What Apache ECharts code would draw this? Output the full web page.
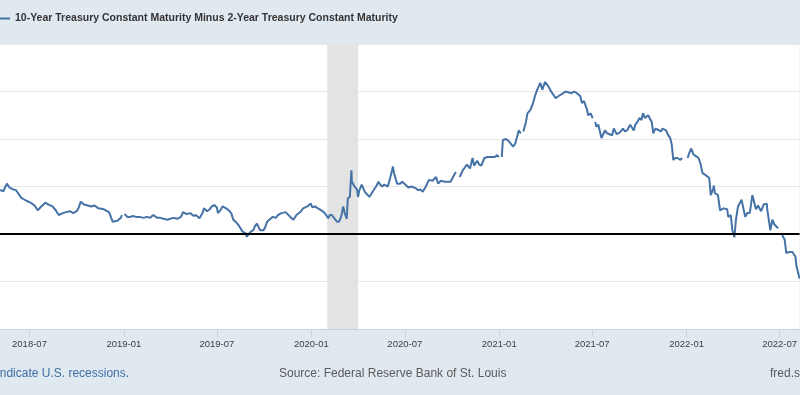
<!DOCTYPE html>
<html>
<head>
<meta charset="utf-8">
<script src="https://cdn.jsdelivr.net/npm/echarts@6/dist/echarts.min.js"></script>
<style>
html,body{margin:0;padding:0;background:#e1e9f0;}
#chart{width:800px;height:395px;}
</style>
</head>
<body>
<div id="chart"></div>
<script>
// ---- data ----
const seriesName = '10-Year Treasury Constant Maturity Minus 2-Year Treasury Constant Maturity';
const dates = [
'2018-05-01','2018-05-11','2018-05-18','2018-05-23','2018-05-30','2018-06-05','2018-06-08','2018-06-15','2018-06-25',
'2018-07-03','2018-07-11','2018-07-17','2018-07-24','2018-08-01','2018-08-07','2018-08-15','2018-08-21','2018-08-27',
'2018-09-04','2018-09-10','2018-09-18','2018-09-24','2018-10-01','2018-10-05','2018-10-09','2018-10-15','2018-10-23',
'2018-10-29','2018-11-05','2018-11-12','2018-11-15','2018-11-23','2018-11-29','2018-12-03','2018-12-10','2018-12-13',
'2018-12-19','2018-12-26','2018-12-28','2019-01-01','2019-01-02','2019-01-08','2019-01-14','2019-01-18','2019-01-25',
'2019-02-01','2019-02-08','2019-02-15','2019-02-21','2019-02-27','2019-03-07','2019-03-13','2019-03-19','2019-03-27',
'2019-04-01','2019-04-08','2019-04-15','2019-04-22','2019-04-26','2019-05-03','2019-05-10','2019-05-17','2019-05-21',
'2019-05-28','2019-06-03','2019-06-06','2019-06-12','2019-06-17','2019-06-21','2019-06-26','2019-07-01','2019-07-03',
'2019-07-09','2019-07-12','2019-07-19','2019-07-24','2019-07-29','2019-08-02','2019-08-08','2019-08-12','2019-08-16',
'2019-08-20','2019-08-26','2019-08-28','2019-09-04','2019-09-10','2019-09-13','2019-09-17','2019-09-23','2019-09-30',
'2019-10-03','2019-10-07','2019-10-11','2019-10-18','2019-10-24','2019-10-28','2019-11-04','2019-11-07','2019-11-12',
'2019-11-15','2019-11-21','2019-11-27','2019-12-03','2019-12-06','2019-12-12','2019-12-16','2019-12-20','2019-12-24',
'2019-12-27','2019-12-31','2020-01-03','2020-01-08','2020-01-14','2020-01-17','2020-01-23','2020-01-27','2020-01-31',
'2020-02-03','2020-02-06','2020-02-10','2020-02-14','2020-02-20','2020-02-24','2020-02-28','2020-03-03','2020-03-06',
'2020-03-10','2020-03-12','2020-03-16','2020-03-19','2020-03-20','2020-03-25','2020-03-30','2020-04-01','2020-04-03',
'2020-04-08','2020-04-14','2020-04-17','2020-04-23','2020-04-30','2020-05-06','2020-05-11','2020-05-14','2020-05-18',
'2020-05-22','2020-05-29','2020-06-03','2020-06-08','2020-06-10','2020-06-16','2020-06-22','2020-06-26','2020-07-02',
'2020-07-08','2020-07-14','2020-07-17','2020-07-23','2020-07-27','2020-07-31','2020-08-05','2020-08-11','2020-08-17',
'2020-08-20','2020-08-24','2020-08-31','2020-09-04','2020-09-09','2020-09-11','2020-09-17','2020-09-23','2020-09-28',
'2020-10-01','2020-10-07','2020-10-09','2020-10-12','2020-10-16','2020-10-22','2020-10-26','2020-10-30','2020-11-05',
'2020-11-10','2020-11-13','2020-11-19','2020-11-23','2020-11-27','2020-12-03','2020-12-09','2020-12-14','2020-12-17',
'2020-12-23','2020-12-28','2020-12-31','2021-01-01','2021-01-06','2021-01-08','2021-01-14','2021-01-19','2021-01-22',
'2021-01-28','2021-02-01','2021-02-08','2021-02-12','2021-02-15','2021-02-17','2021-02-22','2021-02-25','2021-03-03',
'2021-03-08','2021-03-12','2021-03-16','2021-03-22','2021-03-26','2021-03-31','2021-04-06','2021-04-12','2021-04-15',
'2021-04-21','2021-04-26','2021-04-29','2021-05-05','2021-05-10','2021-05-13','2021-05-17','2021-05-21','2021-05-27',
'2021-06-02','2021-06-08','2021-06-11','2021-06-15','2021-06-21','2021-06-23','2021-06-28','2021-07-02','2021-07-05',
'2021-07-07','2021-07-09','2021-07-13','2021-07-19','2021-07-26','2021-07-30','2021-08-04','2021-08-09','2021-08-12',
'2021-08-18','2021-08-24','2021-08-30','2021-09-03','2021-09-07','2021-09-13','2021-09-20','2021-09-23','2021-09-27',
'2021-10-01','2021-10-05','2021-10-08','2021-10-12','2021-10-18','2021-10-25','2021-10-28','2021-11-01','2021-11-05',
'2021-11-12','2021-11-15','2021-11-22','2021-11-26','2021-11-30','2021-12-03','2021-12-06','2021-12-10','2021-12-14',
'2021-12-20','2021-12-23','2021-12-27','2022-01-03','2022-01-06','2022-01-10','2022-01-14','2022-01-19','2022-01-24',
'2022-01-28','2022-02-01','2022-02-07','2022-02-14','2022-02-17','2022-02-22','2022-02-23','2022-02-25','2022-03-03',
'2022-03-07','2022-03-14','2022-03-17','2022-03-21','2022-03-23','2022-03-28','2022-03-31','2022-04-04','2022-04-07',
'2022-04-11','2022-04-18','2022-04-21','2022-04-25','2022-04-29','2022-05-04','2022-05-09','2022-05-10','2022-05-16',
'2022-05-20','2022-05-26','2022-05-31','2022-06-06','2022-06-07','2022-06-13','2022-06-17','2022-06-21','2022-06-24',
'2022-06-28','2022-07-04','2022-07-06','2022-07-11','2022-07-14','2022-07-20','2022-07-26','2022-08-01','2022-08-03',
'2022-08-09'
];
const values = [
0.47,0.45,0.53,0.49,0.47,0.46,0.45,0.38,0.35,
0.33,0.30,0.25,0.29,0.33,0.31,0.29,0.25,0.20,
0.22,0.23,0.24,0.22,0.24,0.28,0.34,0.31,0.30,
0.29,0.30,0.27,0.25,0.26,0.24,0.23,0.13,0.14,
0.14,0.17,0.20,null,0.21,0.18,0.18,0.19,0.18,
0.18,0.17,0.18,0.17,0.20,0.17,0.17,0.16,0.15,
0.16,0.17,0.16,0.18,0.23,0.21,0.22,0.19,0.20,
0.165,0.22,0.27,0.24,0.26,0.29,0.305,0.28,0.22,
0.26,0.29,0.27,0.25,0.22,0.15,0.12,0.095,0.06,
0.025,0.01,-0.03,0.02,0.04,0.08,0.11,0.04,0.04,
0.07,0.13,0.15,0.18,0.17,0.20,0.22,0.235,0.23,
0.25,0.18,0.15,0.20,0.22,0.24,0.27,0.28,0.29,
0.30,0.32,0.28,0.29,0.27,0.25,0.24,0.22,0.19,
0.165,0.20,0.20,0.17,0.13,0.13,0.18,0.29,0.22,
0.16,0.375,0.39,0.67,0.55,0.50,0.47,0.39,0.45,
0.52,0.445,0.43,0.39,0.45,0.50,0.55,0.52,0.50,
0.52,0.50,0.60,0.71,0.64,0.53,0.53,0.55,0.52,
0.49,0.50,0.49,0.48,0.46,0.47,0.445,0.50,0.57,
0.55,0.56,0.60,0.53,0.56,0.57,0.55,0.55,0.55,
0.57,0.64,0.65,null,0.60,0.67,0.70,0.73,0.69,
0.80,0.72,0.77,0.73,0.72,0.80,0.81,0.81,0.83,
0.81,0.83,0.81,null,0.81,0.99,1.00,0.98,0.97,
0.92,0.95,1.09,1.06,null,1.08,1.18,1.27,1.31,
1.38,1.46,1.52,1.59,1.52,1.60,1.56,1.50,1.48,
1.43,1.45,1.45,1.48,1.50,1.52,1.49,1.48,1.50,
1.48,1.45,1.38,1.40,1.31,1.25,1.27,1.22,null,
1.18,1.13,1.15,1.01,1.09,1.06,1.05,1.04,1.11,
1.05,1.07,1.11,1.08,1.09,1.15,1.09,1.15,1.18,
1.22,1.20,1.27,1.22,1.25,1.18,1.06,1.11,1.10,
1.08,1.11,1.09,1.04,1.01,0.94,0.78,0.80,0.80,
0.78,0.80,null,0.80,0.85,0.90,0.84,0.82,0.80,
0.74,0.64,0.62,0.59,0.41,0.48,0.51,0.43,0.41,
0.25,0.27,0.28,0.26,0.18,0.20,0.04,-0.035,0.15,
0.29,0.36,0.37,0.18,0.22,0.22,0.41,0.43,0.26,
0.30,0.24,0.31,0.32,0.26,0.04,0.15,0.10,0.12,
0.06,null,-0.01,-0.06,-0.20,-0.19,-0.19,-0.24,-0.34,
-0.47
];
const xTickLabels = ['2018-07','2019-01','2019-07','2020-01','2020-07','2021-01','2021-07','2022-01','2022-07'];
const recession = ['2020-02-01','2020-04-01'];
const xRange = ['2018-05-04 14:00','2022-08-09 00:00'];
const yMin = -1, yMax = 2, yStep = 0.5;

// ---- chart ----
const P = s => echarts.time.parse(s).getTime();
const seriesData = dates.map((d, i) => [P(d), values[i]]);
const tickValues = xTickLabels.map(s => P(s + '-01'));
const pad2 = n => (n < 10 ? '0' : '') + n;
const font = '"Liberation Sans", Arial, Helvetica, sans-serif';

const chart = echarts.init(document.getElementById('chart'), null, {renderer: 'canvas'});
chart.setOption({
  animation: false,
  backgroundColor: '#e1e9f0',
  legend: {
    left: -20, top: 8,
    icon: 'rect',
    itemWidth: 25, itemHeight: 2, itemGap: 10,
    textStyle: {fontFamily: font, fontSize: 10.5, fontWeight: 'bold', color: '#333'},
    data: [seriesName]
  },
  grid: {
    left: 0, right: 0, top: 44, bottom: 66,
    show: true, backgroundColor: '#ffffff', borderWidth: 0
  },
  xAxis: {
    type: 'value',
    min: P(xRange[0]), max: P(xRange[1]),
    axisLine: {show: true, onZero: false, lineStyle: {color: '#c6d3df', width: 1}},
    axisTick: {show: true, length: 8, lineStyle: {color: '#c6d3df'}, customValues: tickValues},
    splitLine: {show: false},
    axisLabel: {
      customValues: tickValues,
      margin: 10,
      fontFamily: font, fontSize: 9.5, color: '#3d3d3d',
      formatter: v => { const d = new Date(v); return d.getFullYear() + '-' + pad2(d.getMonth() + 1); }
    }
  },
  yAxis: {
    type: 'value', min: yMin, max: yMax, interval: yStep,
    axisLine: {show: false}, axisTick: {show: false},
    axisLabel: {show: false},
    splitLine: {show: true, lineStyle: {color: '#e6e6e6', width: 1}}
  },
  series: [{
    name: seriesName,
    type: 'line',
    data: seriesData,
    symbol: 'none',
    connectNulls: false,
    lineStyle: {color: '#4572a7', width: 2},
    itemStyle: {color: '#4572a7'},
    markArea: {
      silent: true,
      itemStyle: {color: '#e3e3e3'},
      data: [[{xAxis: P(recession[0])}, {xAxis: P(recession[1])}]]
    },
    markLine: {
      silent: true, symbol: 'none',
      label: {show: false},
      lineStyle: {color: '#000000', width: 2, type: 'solid'},
      data: [{yAxis: 0}]
    }
  }],
  graphic: [
    {type: 'text', left: -81, top: 368, style: {text: 'Shaded areas indicate U.S. recessions.', font: '12px ' + font, fill: '#3f6ea6'}},
    {type: 'text', left: 279, top: 368, style: {text: 'Source: Federal Reserve Bank of St. Louis', font: '12px ' + font, fill: '#5a5a5a'}},
    {type: 'text', left: 770, top: 368, style: {text: 'fred.stlouisfed.org', font: '12px ' + font, fill: '#5a5a5a'}}
  ]
});
</script>
</body>
</html>
